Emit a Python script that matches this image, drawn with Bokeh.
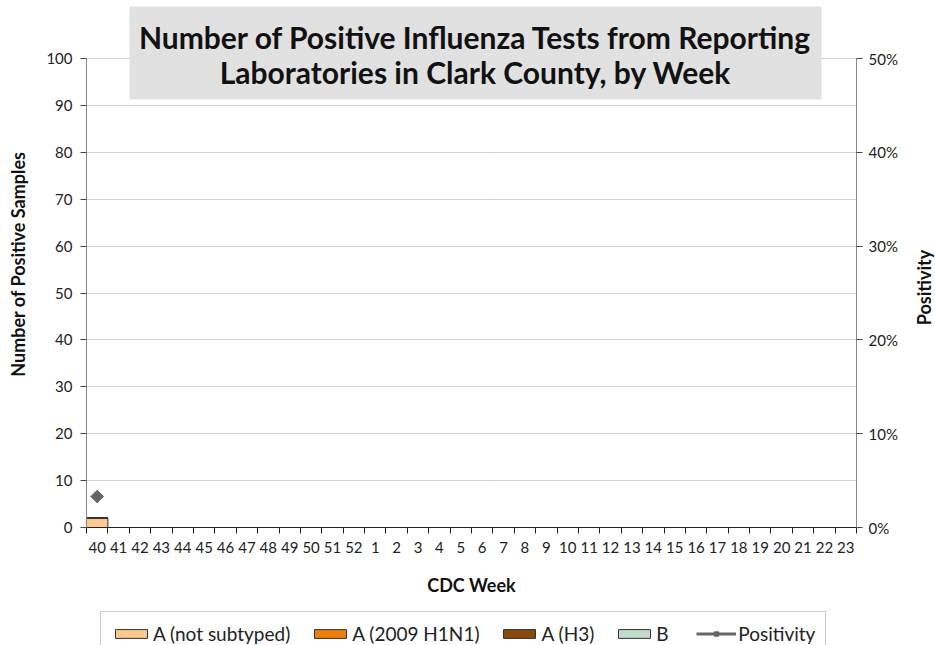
import math
from bokeh.plotting import figure
from bokeh.layouts import column, row
from bokeh.models import (Range1d, LinearAxis, FixedTicker, Label, Legend, LegendItem,
                          ColumnDataSource, NumeralTickFormatter, BoxAnnotation)
from bokeh.embed import file_html
from bokeh.resources import INLINE

NaN = float("nan")

weeks = [str(w) for w in list(range(40, 53)) + list(range(1, 24))]
a_not_subtyped = [2] + [NaN] * 35
a_2009_h1n1 = [0] + [NaN] * 35
a_h3 = [0] + [NaN] * 35
b_vals = [0] + [NaN] * 35
positivity = [0.033] + [NaN] * 35

series_names = ["A (not subtyped)", "A (2009 H1N1)", "A (H3)", "B"]
series_colors = ["#FFC98B", "#F07F09", "#8B4A0B", "#C3DBCB"]
pos_color = "#666666"

FONT = "Lato"
n = len(weeks)
centers = [i + 0.5 for i in range(n)]

W = 935
WR = 22                      # strip at the right carrying the "Positivity" title
W1 = W - WR
H1, H2 = 610, 35
FL, FR, FB = 86, 856, 527   # frame left/right/bottom in page px
Y100 = 58                    # page px of y=100
ymax = 100 * FB / (FB - Y100)

p = figure(width=W1, height=H1, output_backend="svg", toolbar_location=None,
           x_range=Range1d(0, n), y_range=Range1d(0, ymax),
           min_border_left=FL, min_border_right=W1 - FR, min_border_top=0,
           min_border_bottom=H1 - FB)
p.outline_line_color = None
p.background_fill_color = "white"
p.border_fill_color = "white"
p.extra_y_ranges = {"pos": Range1d(0, 0.5 * ymax / 100)}

def dx(px):
    return (px - FL) / (FR - FL) * n

def dy(py):
    return (FB - py) / (FB - Y100) * 100

# grid
p.xgrid.grid_line_color = None
p.ygrid.ticker = FixedTicker(ticks=list(range(10, 101, 10)))
p.ygrid.grid_line_color = "#a8a8a8"
p.ygrid.grid_line_dash = "1 1"

# stacked bars
data = {"x": centers}
keys = ["s0", "s1", "s2", "s3"]
for k, vals in zip(keys, [a_not_subtyped, a_2009_h1n1, a_h3, b_vals]):
    data[k] = vals
src = ColumnDataSource(data)
bars = p.vbar_stack(keys, x="x", width=1.0, source=src, color=series_colors,
                    line_color="#333333", line_width=1)
for r, c in zip(bars, series_colors):
    r.glyph.line_color = "#333333"
    r.glyph.fill_color = c

psrc = ColumnDataSource({"x": centers, "y": positivity})
pl = p.line("x", "y", source=psrc, y_range_name="pos", line_color=pos_color, line_width=3)
pm = p.scatter("x", "y", source=psrc, y_range_name="pos", marker="square", angle=math.pi / 4,
               size=9, fill_color=pos_color, line_color=pos_color)

# x axis
xa = p.xaxis[0]
xa.ticker = FixedTicker(ticks=centers, minor_ticks=list(range(n + 1)))
xa.major_label_overrides = {c: w for c, w in zip(centers, weeks)}
xa.major_tick_out = 0
xa.major_tick_in = 0
xa.minor_tick_out = 6
xa.minor_tick_in = 0
xa.minor_tick_line_color = "#222222"
xa.axis_line_color = "#222222"
xa.axis_label = "CDC Week"
xa.axis_label_text_font = FONT
xa.axis_label_text_font_style = "bold"
xa.axis_label_text_font_size = "18px"
xa.axis_label_text_color = "#111111"
xa.axis_label_standoff = 18
xa.major_label_text_font = FONT
xa.major_label_text_font_size = "15px"
xa.major_label_text_color = "#222222"
xa.major_label_standoff = 8

# left axis
ya = p.yaxis[0]
ya.ticker = FixedTicker(ticks=list(range(0, 101, 10)))
ya.bounds = (0, 100)
ya.minor_tick_line_color = None
ya.major_tick_out = 6
ya.major_tick_in = 0
ya.axis_line_color = "#888888"
ya.major_tick_line_color = "#444444"
ya.axis_label = "Number of Positive Samples"
ya.axis_label_text_font = FONT
ya.axis_label_text_font_style = "bold"
ya.axis_label_text_font_size = "18px"
ya.axis_label_text_color = "#111111"
ya.axis_label_standoff = 14
ya.major_label_text_font = FONT
ya.major_label_text_font_size = "15px"
ya.major_label_text_color = "#222222"
ya.major_label_standoff = 8

# right axis (its title is drawn in the narrow strip to the right)
ra = LinearAxis(y_range_name="pos", ticker=FixedTicker(ticks=[0, 0.1, 0.2, 0.3, 0.4, 0.5]),
                formatter=NumeralTickFormatter(format="0%"), bounds=(0, 0.5))
ra.minor_tick_line_color = None
ra.major_tick_out = 6
ra.major_tick_in = 0
ra.axis_line_color = "#888888"
ra.major_tick_line_color = "#444444"
ra.major_label_text_font = FONT
ra.major_label_text_font_size = "15px"
ra.major_label_text_color = "#222222"
ra.major_label_standoff = 6
p.add_layout(ra, "right")

# title box
box = BoxAnnotation(left=dx(129), right=dx(821), top=dy(6), bottom=dy(99),
                    fill_color="#e1e1e1", fill_alpha=1.0, line_color=None)
p.add_layout(box)
title_lines = ["Number of Positive Influenza Tests from Reporting",
               "Laboratories in Clark County, by Week"]
for txt, py in zip(title_lines, [36, 71]):
    p.add_layout(Label(x=dx(475), y=dy(py), text=txt, text_font=FONT, text_font_style="bold",
                       text_font_size="30px", text_align="center", text_baseline="middle",
                       text_color="#111111"))

# right strip with the secondary axis title (its frame is aligned with the main frame)
p3 = figure(width=WR, height=H1, output_backend="svg", toolbar_location=None,
            x_range=Range1d(0, WR), y_range=Range1d(0, FB), min_border=0)
p3.axis.visible = False
p3.grid.visible = False
p3.outline_line_color = None
p3.border_fill_color = "white"
p3.add_layout(Label(x=10, y=FB - 287, text="Positivity", angle=math.pi / 2,
                    text_font=FONT, text_font_style="bold", text_font_size="18px",
                    text_align="center", text_baseline="middle", text_color="#111111"))

# legend strip (separate figure under the chart)
p2 = figure(width=W, height=H2, output_backend="svg", toolbar_location=None,
            x_range=Range1d(0, 1), y_range=Range1d(0, 1), min_border=0)
p2.axis.visible = False
p2.grid.visible = False
p2.outline_line_color = None
p2.border_fill_color = "white"
lsrc = ColumnDataSource({"x": [NaN], "y": [NaN]})
items = []
for nm, c in zip(series_names, series_colors):
    r = p2.vbar(x="x", top="y", width=0.1, source=lsrc, fill_color=c, line_color="#333333")
    items.append(LegendItem(label=nm, renderers=[r]))
r1 = p2.line("x", "y", source=lsrc, line_color=pos_color, line_width=3)
r2 = p2.scatter("x", "y", source=lsrc, marker="square", angle=math.pi / 4, size=9,
                fill_color=pos_color, line_color=pos_color)
items.append(LegendItem(label="Positivity", renderers=[r1, r2]))
legend = Legend(items=items, orientation="horizontal", location=(100, -11),
                label_text_font=FONT, label_text_font_size="19px", label_text_color="#222222",
                glyph_width=40, glyph_height=11, spacing=20, label_standoff=2,
                border_line_color="#999999", border_line_width=1.5,
                padding=10, margin=0, background_fill_color="white")
p2.add_layout(legend, "center")

layout = column(row(p, p3, spacing=0), p2, spacing=0)
open("out.html", "w").write(file_html(layout, INLINE))
